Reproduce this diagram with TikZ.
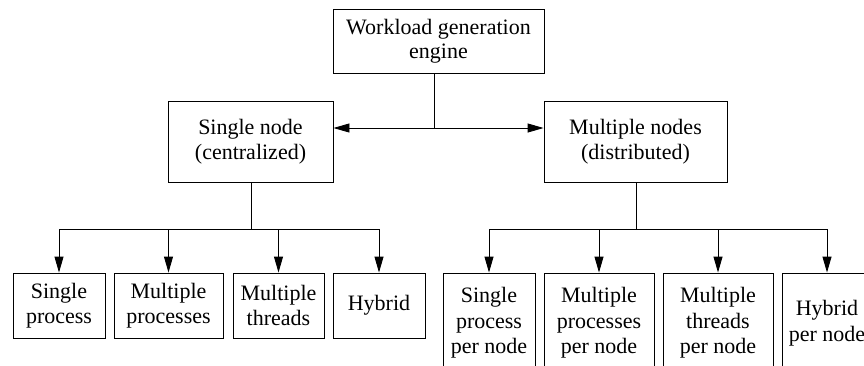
\documentclass[tikz,border=0pt]{standalone}
\usepackage{fontspec}
\setmainfont{Liberation Serif}
\usetikzlibrary{arrows.meta}
\begin{document}
\begin{tikzpicture}[x=1pt,y=-1pt,
  box/.style={draw,line width=0.9pt,align=center,inner sep=0pt,
    font=\fontsize{22}{25.5}\selectfont},
  ln/.style={line width=0.9pt},
  arr/.style={line width=0.9pt,-{Triangle[length=16pt,width=9pt]}}]
\useasboundingbox (0,0) rectangle (864,365);
\clip (0,0) rectangle (864,365);
% top
\node[box,minimum width=211pt,minimum height=64pt] (top) at (438.5,41) {Workload generation\\[-2pt]engine};
\node[box,minimum width=165pt,minimum height=81pt] (left) at (250.5,141.5) {Single node\\(centralized)};
\node[box,minimum width=183pt,minimum height=81pt] (right) at (635.5,141.5) {Multiple nodes\\(distributed)};
% bottom left
\node[box,minimum width=92pt,minimum height=65pt] (a1) at (59,305.5) {Single\\process};
\node[box,minimum width=109pt,minimum height=65pt] (a2) at (168.5,305.5) {Multiple\\processes};
\node[box,minimum width=91pt,minimum height=65pt] (a3) at (278.5,305.5) {Multiple\\threads};
\node[box,minimum width=92pt,minimum height=65pt] (a4) at (379,305.5) {Hybrid};
% bottom right
\node[box,minimum width=92pt,minimum height=100pt] (b1) at (489,323) {Single\\process\\per node};
\node[box,minimum width=110pt,minimum height=100pt] (b2) at (599,323) {Multiple\\processes\\per node};
\node[box,minimum width=110pt,minimum height=100pt] (b3) at (718,323) {Multiple\\threads\\per node};
\node[box,minimum width=90pt,minimum height=100pt] (b4) at (827,323) {Hybrid\\per node};
% connectors top
\coordinate (j) at (434,128);
\draw[ln] (top.south -| j) -- (j);
\draw[arr] (j) -- (j -| left.east);
\draw[arr] (j) -- (j -| right.west);
% left tree
\coordinate (lj) at (251,229);
\draw[ln] (left.south -| lj) -- (lj);
\draw[ln] (a1.north |- lj) -- (a4.north |- lj);
\foreach \n in {a1,a2,a3,a4} \draw[arr] (\n.north |- lj) -- (\n.north);
% right tree
\coordinate (rj) at (636,229);
\draw[ln] (right.south -| rj) -- (rj);
\draw[ln] (b1.north |- rj) -- (b4.north |- rj);
\foreach \n in {b1,b2,b3,b4} \draw[arr] (\n.north |- rj) -- (\n.north);
\end{tikzpicture}
\end{document}
